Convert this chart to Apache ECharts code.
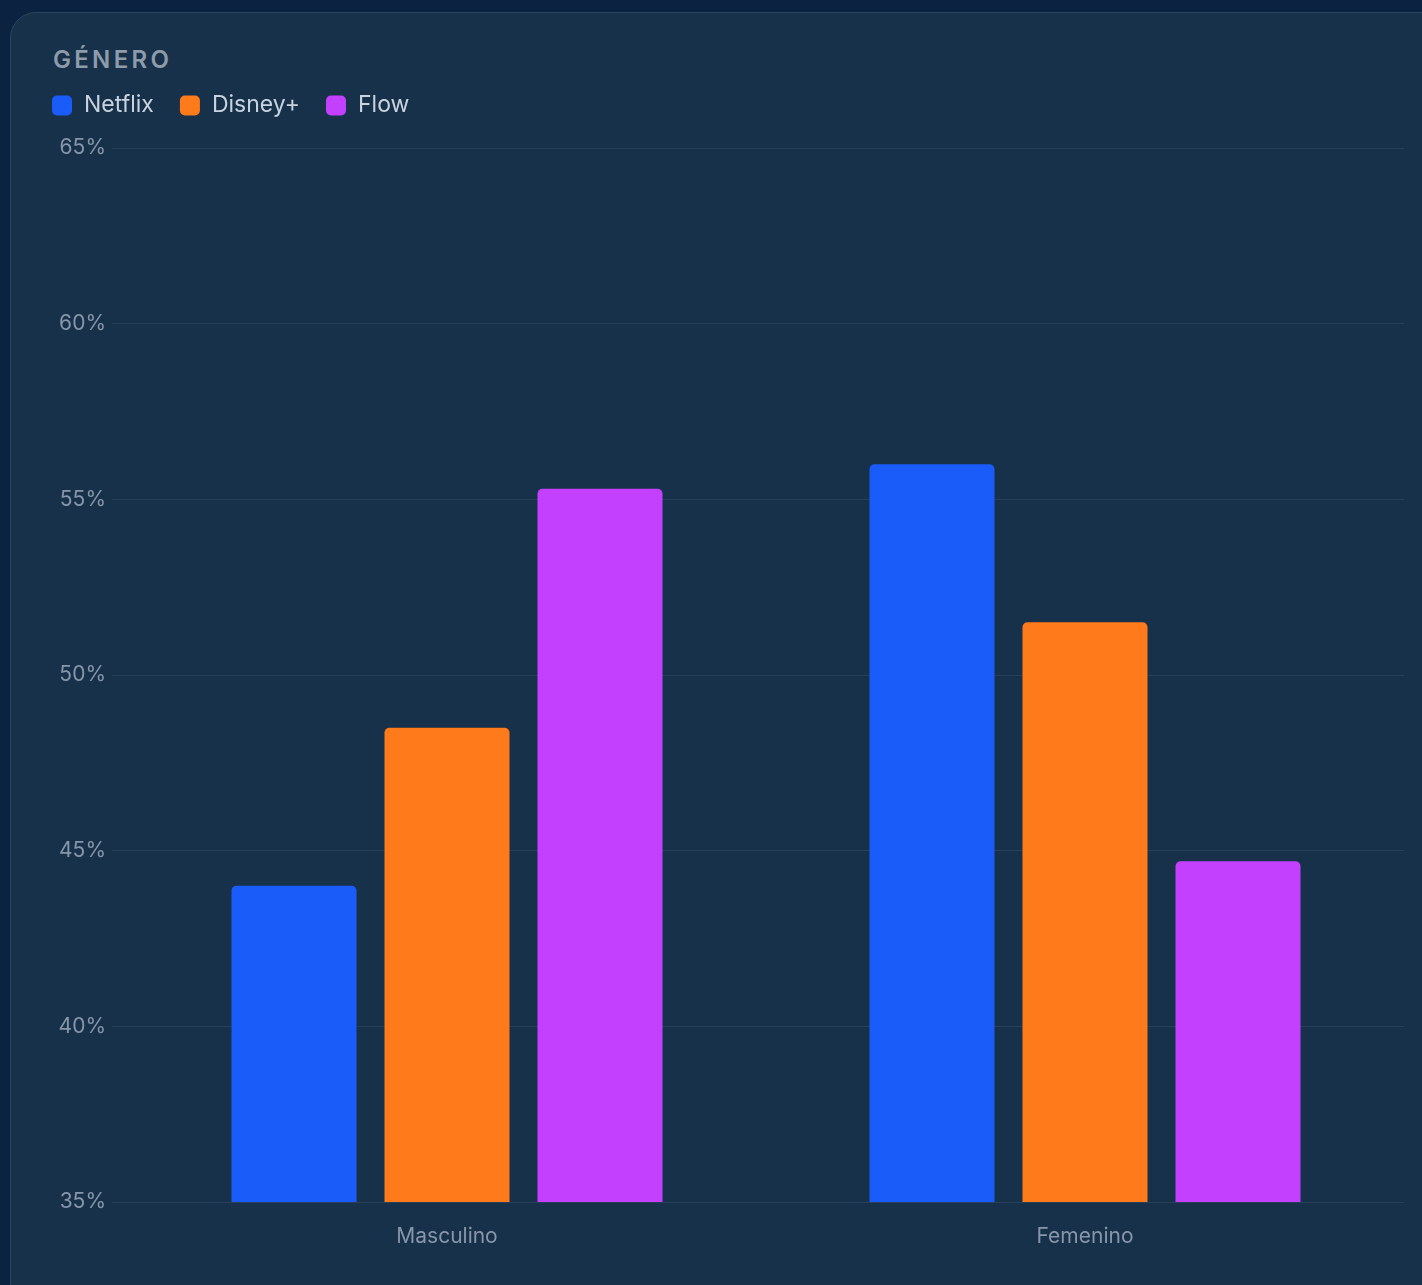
<!DOCTYPE html>
<html>
<head>
<meta charset="utf-8">
<script src="https://cdn.jsdelivr.net/npm/echarts@6/dist/echarts.min.js"></script>
<style>
  html, body { margin: 0; padding: 0; width: 1422px; height: 1285px; overflow: hidden; background: #0b2340; }
  #card { position: absolute; left: 10px; top: 12px; width: 1460px; height: 1300px; background: #17314a; border: 1.5px solid #2b4560; border-radius: 26px; box-sizing: border-box; }
  #title { position: absolute; left: 53px; top: 45px; font-family: Inter, "Noto Sans", sans-serif; font-size: 24px; font-weight: 600; letter-spacing: 3.3px; color: #8e9bab; }
  #chart { position: absolute; left: 0; top: 0; width: 1422px; height: 1285px; }
</style>
</head>
<body>
<div id="card"></div>
<div id="title">GÉNERO</div>
<div id="chart"></div>
<script>
const categories = ['Masculino', 'Femenino'];
const seriesNames = ['Netflix', 'Disney+', 'Flow'];
const netflix = [44.0, 56.0];
const disney = [48.5, 51.5];
const flow = [55.3, 44.7];
const colors = ['#1a5cfa', '#ff7a1a', '#c440ff'];

const chart = echarts.init(document.getElementById('chart'), null, { renderer: 'canvas' });
const font = 'Inter, "Noto Sans", sans-serif';
const values = [netflix, disney, flow];
chart.setOption({
  backgroundColor: 'transparent',
  animation: false,
  color: colors,
  legend: {
    left: 52, top: 94, padding: 0,
    itemWidth: 20, itemHeight: 20, itemGap: 26,
    icon: 'roundRect',
    textStyle: { color: '#c9d3df', fontSize: 23, fontFamily: font, padding: [0, 0, 0, 7] },
    data: seriesNames
  },
  grid: { left: 128, right: 18, top: 148, bottom: 83, containLabel: false },
  xAxis: {
    type: 'category',
    data: categories,
    axisLine: { show: false },
    axisTick: { show: false },
    axisLabel: { color: '#8796a8', fontSize: 21, fontFamily: font, margin: 24 }
  },
  yAxis: {
    type: 'value',
    min: 35, max: 65, interval: 5,
    axisLine: { show: false },
    axisTick: { show: true, length: 16, lineStyle: { color: '#283f59', width: 1 } },
    axisLabel: { color: '#8796a8', fontSize: 21, fontFamily: font, margin: 22, formatter: '{value}%' },
    splitLine: { lineStyle: { color: '#283f59', width: 1 } }
  },
  series: seriesNames.map((name, i) => ({
    name: name,
    type: 'bar',
    data: values[i],
    barWidth: 125,
    barGap: '22.4%',
    itemStyle: { color: colors[i], borderRadius: [5, 5, 0, 0] }
  }))
});
</script>
</body>
</html>
